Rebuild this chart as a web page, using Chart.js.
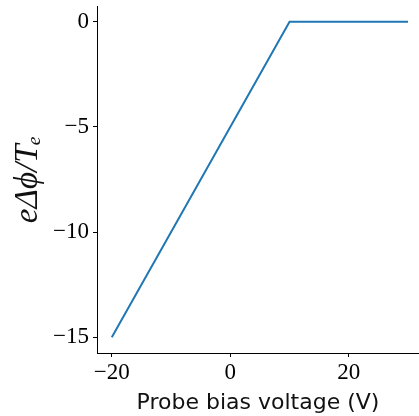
<!DOCTYPE html>
<html><head><meta charset="utf-8">
<script src="https://cdn.jsdelivr.net/npm/chart.js@4"></script>
<style>html,body{margin:0;padding:0;background:#fff}#c{display:block}</style>
</head><body>
<div style="width:419px;height:416px"><canvas id="c" width="419" height="416"></canvas></div>
<script>
const biasVoltage = [-20, 10, 30];
const potentialDrop = [-15, 0, 0];
const xTicks = [-20, 0, 20];
const yTicks = [-15, -10, -5, 0];
const xLabel = 'Probe bias voltage (V)';
const yLabel = 'eΔϕ/Tₑ';

const fmt = v => (v < 0 ? '\u2212' + Math.abs(v) : String(v));
const tickFont = {family: "'Liberation Serif', serif", size: 23};

new Chart(document.getElementById('c'), {
  type: 'line',
  data: {
    datasets: [{
      data: biasVoltage.map((x, i) => ({x, y: potentialDrop[i]})),
      borderColor: '#1f77b4',
      borderWidth: 2,
      pointRadius: 0,
      fill: false,
      tension: 0
    }]
  },
  options: {
    responsive: false,
    animation: false,
    layout: {padding: {top: 6, right: 0, left: 0, bottom: 0}},
    plugins: {legend: {display: false}, tooltip: {enabled: false}},
    scales: {
      x: {
        type: 'linear',
        min: -22.5, max: 31.85,
        afterBuildTicks: s => { s.ticks = xTicks.map(v => ({value: v})); },
        afterFit: s => { s.height = 63; s.paddingLeft = 0; s.paddingRight = 0; },
        grid: {drawOnChartArea: false, drawTicks: true, tickLength: 4, color: '#000', tickWidth: 1},
        border: {display: true, color: '#000', width: 1},
        ticks: {font: tickFont, color: '#000', padding: 2, maxRotation: 0, callback: v => fmt(v)},
        title: {display: true, text: xLabel, color: '#111', font: {family: "'DejaVu Sans', sans-serif", size: 22}, padding: {top: 0, bottom: 0}}
      },
      y: {
        type: 'linear',
        min: -15.75, max: 0.75,
        afterBuildTicks: s => { s.ticks = yTicks.map(v => ({value: v})); },
        afterFit: s => { s.width = 97; s.paddingTop = 0; s.paddingBottom = 0; },
        grid: {drawOnChartArea: false, drawTicks: true, tickLength: 4, color: '#000', tickWidth: 1},
        border: {display: true, color: '#000', width: 1},
        ticks: {font: tickFont, color: '#000', padding: 4, callback: v => fmt(v)},
        title: {display: true, text: yLabel, color: '#111', font: {family: "'Liberation Serif', serif", size: 33, style: 'italic'}, padding: {top: 9, bottom: 0}}
      }
    }
  }
});
</script>
</body></html>
